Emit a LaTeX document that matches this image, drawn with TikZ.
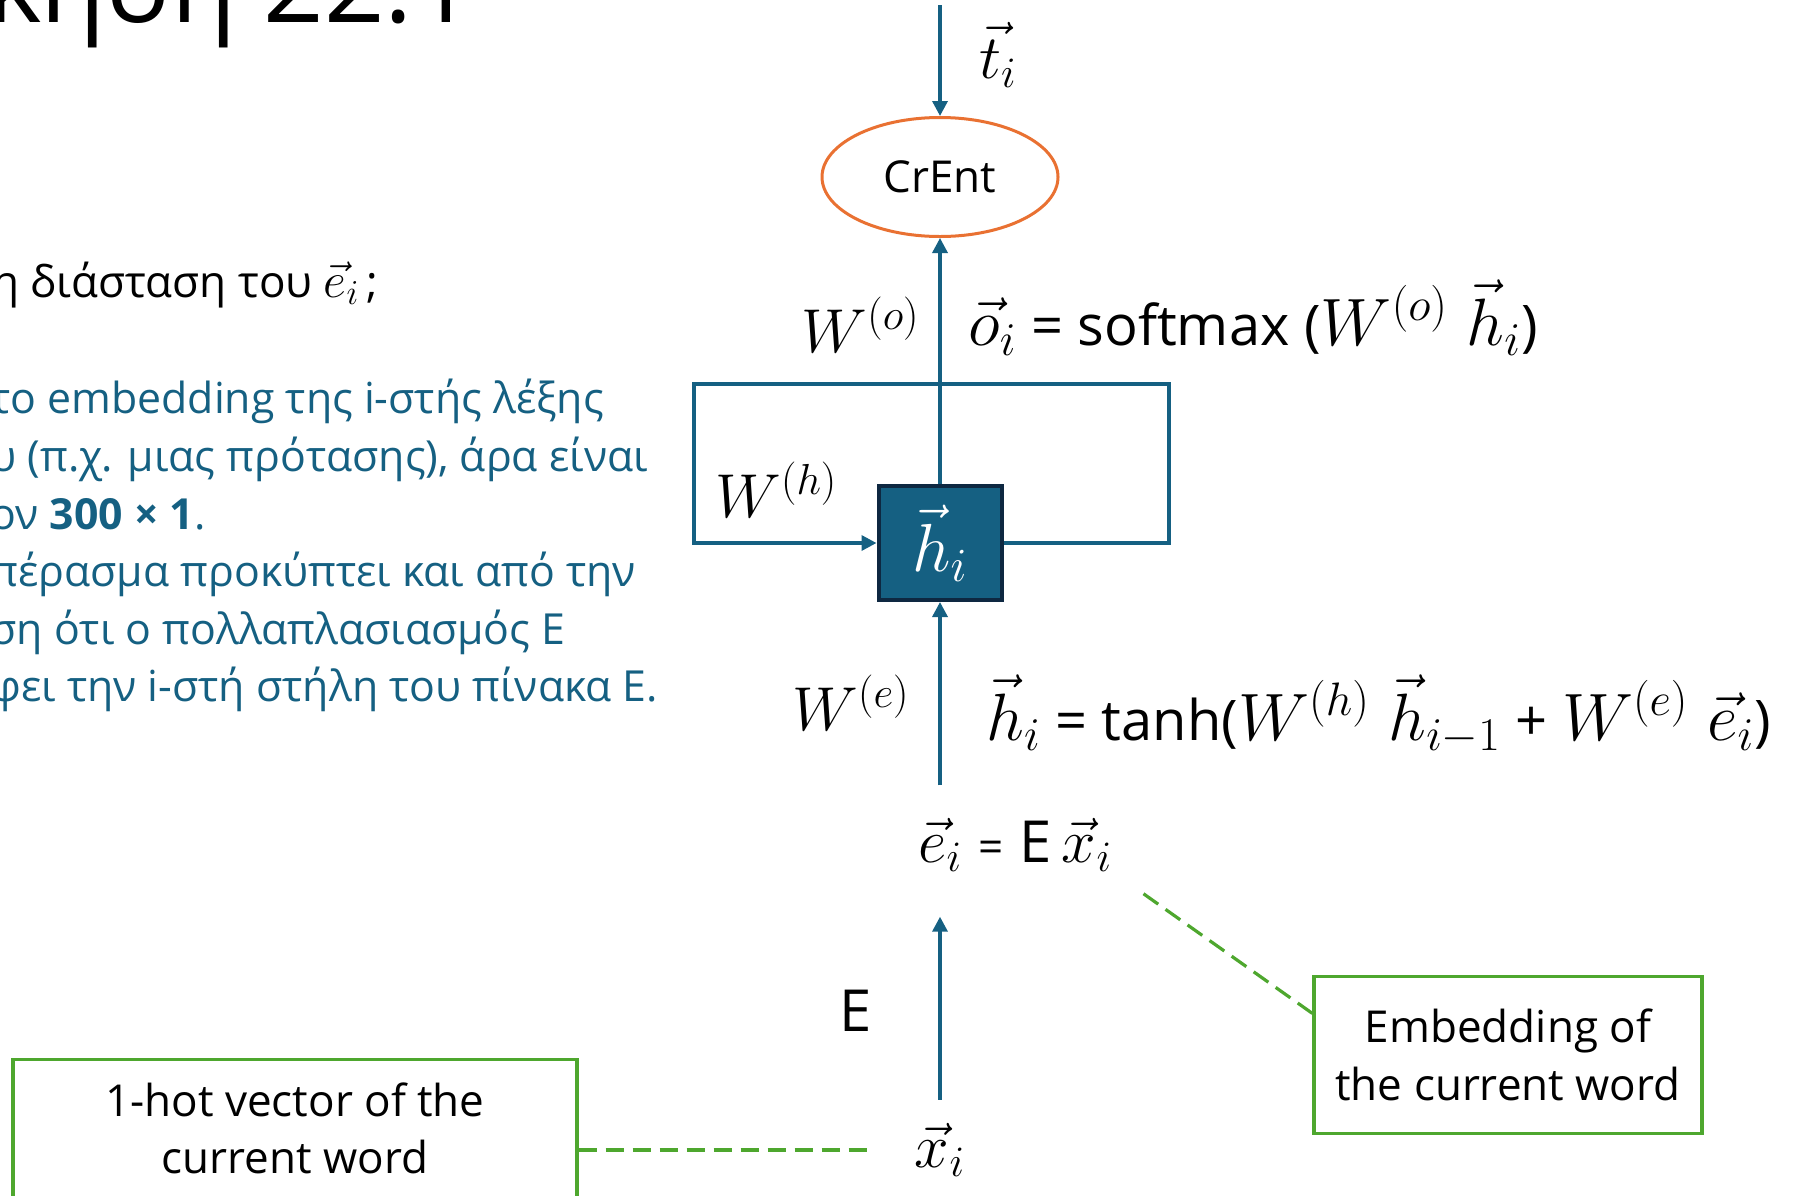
\RequirePackage{fix-cm}
\documentclass[tikz,border=0pt]{standalone}
\usepackage{amsmath}
\usepackage{fontspec}
\setmainfont{Open Sans}
\usetikzlibrary{arrows.meta,positioning,shapes.geometric,calc}
\definecolor{rnnblue}{HTML}{156082}
\definecolor{rnndark}{HTML}{0E2841}
\definecolor{lossorange}{HTML}{E97132}
\definecolor{notegreen}{HTML}{4EA72E}
\newcommand{\rnnbody}{\fontsize{22}{28.8}\selectfont}
\newcommand{\rnnmath}{\fontsize{31}{36}\selectfont}
\newcommand{\rnnlarge}{\fontsize{29}{34}\selectfont}
\newcommand{\rnntext}[1]{{\fontsize{28}{32}\selectfont #1}}

\begin{document}
\begin{tikzpicture}[
  x=0.5pt, y=-0.5pt,
  flow/.style={-{Triangle[length=7.5pt,width=7.5pt]}, draw=rnnblue, line width=1.7pt},
  note/.style={draw=notegreen, line width=1.6pt, align=center, font=\rnnbody},
  leader/.style={draw=notegreen, line width=1.6pt, dash pattern=on 9pt off 4.5pt},
  lbl/.style={inner sep=0pt, font=\rnnmath},
  eqs/.style={inner sep=0pt, font=\fontsize{33.5}{38}\selectfont, anchor=base west}
]
\useasboundingbox (0,0) rectangle (1793,1195);
\clip (0,0) rectangle (1793,1195);

% slide text, cut by the frame
\node[anchor=base east, inner sep=0pt, font=\fontsize{53}{60}\selectfont] (title) at (474,22) {κηση 22.1};
\node[anchor=base west, inner sep=0pt, font=\rnnbody] (question) at (-8,297) {η διάσταση του {\fontsize{25}{30}\selectfont$\vec{e}_i$}\,;};
\node[anchor=north west, inner sep=0pt, align=left, text=rnnblue, font=\fontsize{21.4}{28.8}\selectfont] (answer) at (-10,379)
  {το embedding της i-στής λέξης\\υ (π.χ. μιας πρότασης), άρα είναι\\ον \textbf{300 × 1}.\\πέρασμα προκύπτει και από την\\ση ότι ο πολλαπλασιασμός E\\φει την i-στή στήλη του πίνακα E.};

% the recurrent cell
\coordinate (tin) at (940,5);
\node[lbl] (target) at (998,55) {$\vec{t}_i$};
\node[draw=lossorange, line width=1.5pt, ellipse, minimum width=118pt, minimum height=59.5pt, inner sep=0pt, font=\rnnbody] (crent) at (940,177) {CrEnt};
\node[draw=rnndark, line width=2pt, fill=rnnblue, minimum width=61.5pt, minimum height=57pt, inner sep=0pt, text=white, font=\fontsize{34}{40}\selectfont] (hidden) at (940,543) {$\vec{h}_i$};
\coordinate (loopne) at (1169,384);
\coordinate (loopsw) at (694,543);

\node[lbl, anchor=base east] (wo) at (920,352) {$W^{(o)}$};
\node[lbl, anchor=base west] (wh) at (715,517) {$W^{(h)}$};
\node[lbl, anchor=base east] (we) at (910,730) {$W^{(e)}$};
\node[eqs] (eqo) at (968,345) {$\vec{o}_i$\rnntext{ = softmax (}$W^{(o)}\;\vec{h}_i$\rnntext{)}};
\node[eqs] (eqh) at (986,740) {$\vec{h}_i$\rnntext{ = tanh(}$W^{(h)}\;\vec{h}_{i-1}$\rnntext{ + }$W^{(e)}\;\vec{e}_i$\rnntext{)}};
\node[eqs, font=\rnnmath] (eqe) at (918,862) {$\vec{e}_i$ {\rnnbody=} {\rnnlarge E}\,$\vec{x}_i$};
\node[anchor=center, inner sep=0pt, font=\rnnlarge] (emat) at (856,1011) {E};
\node[lbl] (onehot) at (940,1150) {$\vec{x}_i$};

\draw[flow] (tin) -- (crent);
\draw[flow] (hidden) -- (crent);
\draw[flow] (hidden.east) -| (loopne) -| (loopsw) -- (hidden.west);
\draw[flow, shorten <=16pt] (eqe.north -| hidden) -- (hidden);
\draw[flow, shorten <=11.5pt, shorten >=22.5pt] (onehot.north) -- (onehot.north |- eqe.south);

% notes
\node[note, anchor=north, inner ysep=11.5pt, minimum width=282pt, text depth=45pt] (hotnote) at (295,1058) {1-hot vector of the\\current word};
\node[note, minimum width=194pt, minimum height=78.5pt] (embnote) at (1508,1055) {Embedding of\\the current word};
\draw[leader, shorten >=22pt] (hotnote.east |- onehot.west) -- (onehot.west);
\draw[leader, shorten >=16pt] (embnote.168) -- (eqe.south east);
\end{tikzpicture}
\end{document}
